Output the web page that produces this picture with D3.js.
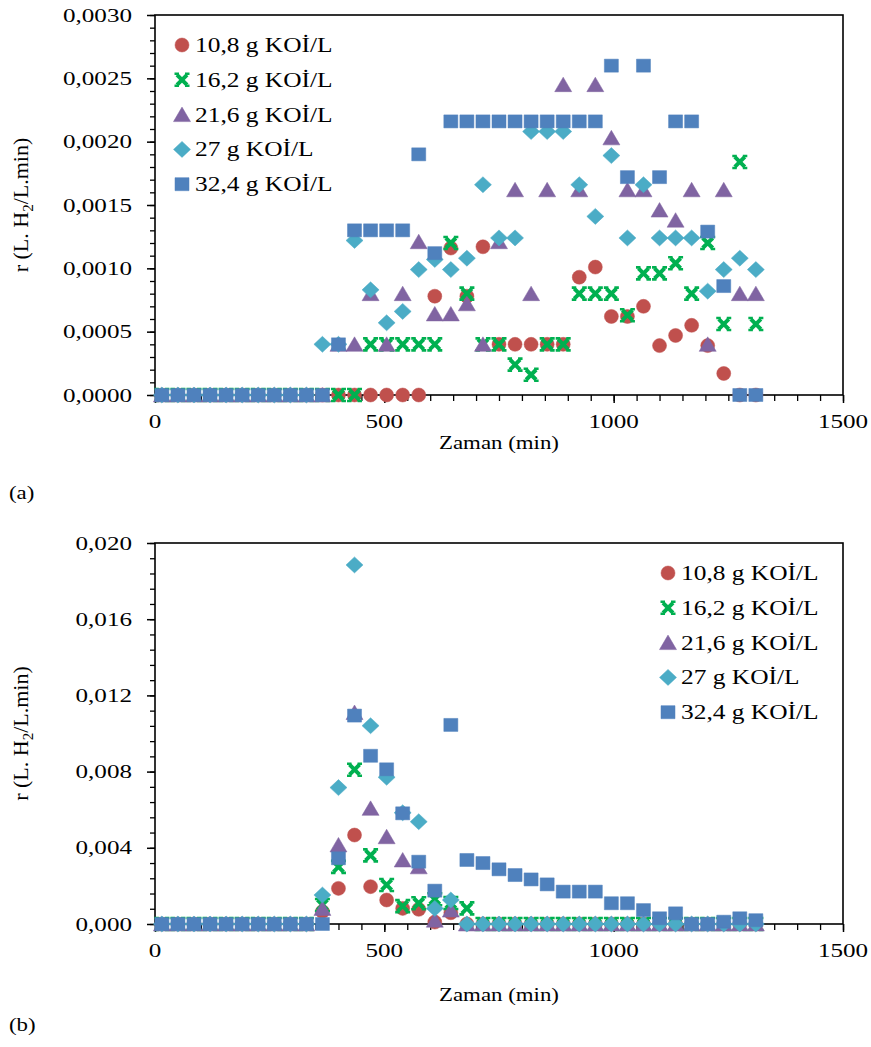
<!DOCTYPE html>
<html>
<head>
<meta charset="utf-8">
<script src="https://cdn.jsdelivr.net/npm/d3@7"></script>
<style>
  body { margin: 0; background: #fff; }
  svg { display: block; }
</style>
</head>
<body>
<div id="chart"></div>
<script>
// sampling times (min), shared by both panels
const times = [15, 50, 85, 120, 155, 190, 225, 260, 295, 330, 365, 400, 435, 470, 505, 540, 575, 610, 645,
    680, 715, 750, 785, 820, 855, 890, 925, 960, 995, 1030, 1065, 1100, 1135, 1170, 1205, 1240, 1275, 1310];

const seriesNames = ['10,8 g KOİ/L', '16,2 g KOİ/L', '21,6 g KOİ/L', '27 g KOİ/L', '32,4 g KOİ/L'];

// panel (a)
const a108 = [0, 0, 0, 0, 0, 0, 0, 0, 0, 0, 0, 0, 0, 0, 0, 0, 0,
    0.00078, 0.00116, 0.00078, 0.00117, 0.0004, 0.0004, 0.0004, 0.0004, 0.0004, 0.00093, 0.00101,
    0.00062, 0.00062, 0.0007, 0.00039, 0.00047, 0.00055, 0.00039, 0.00017, 0, 0];
const a162 = [0, 0, 0, 0, 0, 0, 0, 0, 0, 0, 0, 0, 0,
    0.0004, 0.0004, 0.0004, 0.0004, 0.0004, 0.0012, 0.0008, 0.0004, 0.0004, 0.00024, 0.00016, 0.0004,
    0.0004, 0.0008, 0.0008, 0.0008, 0.00063, 0.00096, 0.00096, 0.00104, 0.0008, 0.0012, 0.00056, 0.00184, 0.00056];
const a216 = [0, 0, 0, 0, 0, 0, 0, 0, 0, 0, 0,
    0.0004, 0.0004, 0.0008, 0.0004, 0.0008, 0.00121, 0.00064, 0.00064, 0.00072, 0.0004, 0.00121, 0.00162,
    0.0008, 0.00162, 0.00245, 0.00162, 0.00245, 0.00203, 0.00162, 0.00162, 0.00146, 0.00138, 0.00162,
    0.0004, 0.00162, 0.0008, 0.0008];
const a27 = [0, 0, 0, 0, 0, 0, 0, 0, 0, 0,
    0.0004, 0.0004, 0.00122, 0.00083, 0.00057, 0.00066, 0.00099, 0.00107, 0.00099, 0.00108, 0.00166,
    0.00124, 0.00124, 0.00208, 0.00208, 0.00208, 0.00166, 0.00141, 0.00189, 0.00124, 0.00166, 0.00124,
    0.00124, 0.00124, 0.00082, 0.00099, 0.00108, 0.00099];
const a324 = [0, 0, 0, 0, 0, 0, 0, 0, 0, 0, 0,
    0.0004, 0.0013, 0.0013, 0.0013, 0.0013, 0.0019, 0.00112, 0.00216, 0.00216, 0.00216, 0.00216, 0.00216,
    0.00216, 0.00216, 0.00216, 0.00216, 0.00216, 0.0026, 0.00172, 0.0026, 0.00172, 0.00216, 0.00216,
    0.00129, 0.00086, 0, 0];

// panel (b)
const b108 = [0, 0, 0, 0, 0, 0, 0, 0, 0, 0,
    0.00065, 0.00187, 0.00467, 0.00196, 0.00126, 0.00082, 0.00077, 0.0001, 0.00059,
    0, 0, 0, 0, 0, 0, 0, 0, 0, 0, 0, 0, 0, 0, 0, 0, 0, 0, 0];
const b162 = [0, 0, 0, 0, 0, 0, 0, 0, 0, 0,
    0.001, 0.003, 0.0081, 0.0036, 0.00205, 0.00094, 0.00109, 0.0013, 0.0011, 0.00082,
    0, 0, 0, 0, 0, 0, 0, 0, 0, 0, 0, 0, 0, 0, 0, 0, 0, 0];
const b216 = [0, 0, 0, 0, 0, 0, 0, 0, 0, 0,
    0.00082, 0.00415, 0.0111, 0.00607, 0.00458, 0.00336, 0.003, 0.0002, 0.00073,
    0, 0, 0, 0, 0, 0, 0, 0, 0, 0, 0, 0, 0, 0, 0, 0, 0, 0, 0];
const b27 = [0, 0, 0, 0, 0, 0, 0, 0, 0, 0,
    0.00152, 0.00716, 0.01885, 0.01041, 0.0077, 0.00584, 0.00537, 0.00082, 0.00126,
    0, 0, 0, 0, 0, 0, 0, 0, 0, 0, 0, 0, 0, 0, 0, 0, 0, 0, 0];
const b324 = [0, 0, 0, 0, 0, 0, 0, 0, 0, 0, 0,
    0.00345, 0.01094, 0.00883, 0.00812, 0.00581, 0.00327, 0.00175, 0.01045, 0.00336, 0.0032, 0.00287,
    0.00257, 0.00234, 0.00208, 0.0017, 0.0017, 0.0017, 0.00109, 0.00109, 0.00073, 0.0003, 0.00056,
    0, 0, 0.00012, 0.0003, 0.0002];

const xTicks = [0, 500, 1000, 1500];
const yTicksA = [0, 0.0005, 0.0010, 0.0015, 0.0020, 0.0025, 0.0030];
const yTicksB = [0, 0.004, 0.008, 0.012, 0.016, 0.020];

const COLORS = ['#C0504D', '#00B050', '#8064A2', '#4BACC6', '#4F81BD'];
const SHAPES = ['circle', 'x', 'triangle', 'diamond', 'square'];
const FONT = "'Liberation Serif', 'Times New Roman', serif";

const svg = d3.select('#chart').append('svg').attr('width', 871).attr('height', 1047);

// widen text like the original (picture is stretched horizontally)
function widen(sel, f) {
    sel.each(function () {
        const w = this.getComputedTextLength();
        d3.select(this).attr('textLength', w * f).attr('lengthAdjust', 'spacingAndGlyphs');
    });
}

function markerPath(shape) {
    switch (shape) {
        case 'circle': return 'M7,0A7,7 0 1,1 -7,0A7,7 0 1,1 7,0Z';
        case 'square': return 'M-7,-6.5H7V6.5H-7Z';
        case 'triangle': return 'M0,-7.5L8.5,7L-8.5,7Z';
        case 'diamond': return 'M0,-8L8.5,0L0,8L-8.5,0Z';
        default: return null;
    }
}

function drawMarker(g, shape, color) {
    if (shape === 'x') {
        g.append('path').attr('d', 'M-5,-5L5,5M5,-5L-5,5')
            .attr('stroke', color).attr('stroke-width', 4).attr('fill', 'none');
        g.append('path').attr('d', 'M-7.5,-6H-3M3,-6H7.5M-7.5,6H-3M3,6H7.5')
            .attr('stroke', color).attr('stroke-width', 2.6).attr('fill', 'none');
    } else {
        g.append('path').attr('d', markerPath(shape))
            .attr('fill', color).attr('stroke', color).attr('stroke-opacity', 0.5).attr('stroke-width', 1);
    }
}

function drawPanel(opt) {
    const { top, bottom, series, yMax, yTicks, yMinor, yFmt, legend, tag, titleY, tagY } = opt;
    const left = 155, right = 843;
    const x = d3.scaleLinear().domain([0, 1500]).range([left, right]);
    const y = d3.scaleLinear().domain([0, yMax]).range([bottom, top]);
    const g = svg.append('g');

    // minor + major ticks
    const xMinor = d3.range(0, 1501, 50);
    g.append('g').attr('transform', `translate(0,${bottom})`)
        .call(d3.axisBottom(x).tickValues(xMinor).tickSize(6).tickFormat(''))
        .call(a => a.select('.domain').remove())
        .call(a => a.selectAll('line').attr('stroke', '#000').attr('stroke-width', 1.3));
    g.append('g').attr('transform', `translate(0,${bottom})`)
        .call(d3.axisBottom(x).tickValues(xTicks).tickSize(8).tickFormat(''))
        .call(a => a.select('.domain').remove())
        .call(a => a.selectAll('line').attr('stroke', '#000').attr('stroke-width', 1.5));
    g.append('g').attr('transform', `translate(${left},0)`)
        .call(d3.axisLeft(y).tickValues(yMinor).tickSize(5).tickFormat(''))
        .call(a => a.select('.domain').remove())
        .call(a => a.selectAll('line').attr('stroke', '#000').attr('stroke-width', 1.3));
    g.append('g').attr('transform', `translate(${left},0)`)
        .call(d3.axisLeft(y).tickValues(yTicks).tickSize(8).tickFormat(''))
        .call(a => a.select('.domain').remove())
        .call(a => a.selectAll('line').attr('stroke', '#000').attr('stroke-width', 1.5));

    // frame
    g.append('rect').attr('x', left).attr('y', top).attr('width', right - left).attr('height', bottom - top)
        .attr('fill', 'none').attr('stroke', '#000').attr('stroke-width', 1.6);

    // tick labels
    const yl = g.selectAll('.ylab').data(yTicks).join('text')
        .attr('x', 132).attr('y', d => y(d)).attr('dy', '0.35em')
        .attr('text-anchor', 'end').attr('font-family', FONT).attr('font-size', 19).attr('fill', '#000')
        .text(d => yFmt(d).replace('.', ','));
    widen(yl, 1.32);
    const xl = g.selectAll('.xlab').data(xTicks).join('text')
        .attr('x', d => x(d)).attr('y', bottom + 26).attr('dy', '0.35em')
        .attr('text-anchor', 'middle').attr('font-family', FONT).attr('font-size', 19).attr('fill', '#000')
        .text(d => d);
    widen(xl, 1.32);

    // axis titles
    const xt = g.append('text').attr('x', (left + right) / 2).attr('y', titleY).attr('dy', '0.35em')
        .attr('text-anchor', 'middle').attr('font-family', FONT).attr('font-size', 18).text('Zaman (min)');
    widen(xt, 1.27);
    const yt = g.append('text').attr('transform', `translate(28,${(top + bottom) / 2}) rotate(-90)`)
        .attr('text-anchor', 'middle').attr('font-family', FONT).attr('font-size', 22);
    yt.append('tspan').text('r (L. H');
    yt.append('tspan').attr('font-size', 15).attr('dy', 5).text('2');
    yt.append('tspan').attr('dy', -5).text('/L.min)');
    const tg = g.append('text').attr('x', 9).attr('y', tagY).attr('dy', '0.35em')
        .attr('font-family', FONT).attr('font-size', 18).text(tag);
    widen(tg, 1.27);

    // markers, later series on top
    series.forEach((vals, s) => {
        const pts = times.map((t, i) => ({ t, v: vals[i] })).filter(d => d.v != null);
        g.append('g').selectAll('g').data(pts).join('g')
            .attr('transform', d => `translate(${x(d.t)},${y(d.v)})`)
            .each(function () { drawMarker(d3.select(this), SHAPES[s], COLORS[s]); });
    });

    // legend
    seriesNames.forEach((name, s) => {
        const ly = legend.y + s * 34.8;
        const mg = g.append('g').attr('transform', `translate(${legend.x},${ly})`);
        drawMarker(mg, SHAPES[s], COLORS[s]);
        const lt = g.append('text').attr('x', legend.x + 13).attr('y', ly).attr('dy', '0.35em')
            .attr('font-family', FONT).attr('font-size', 20).attr('fill', '#000').text(name);
        widen(lt, 1.27);
    });
}

drawPanel({
    top: 15, bottom: 395, series: [a108, a162, a216, a27, a324],
    yMax: 0.003, yTicks: yTicksA, yMinor: d3.range(0, 31).map(k => k / 10000), yFmt: d3.format('.4f'),
    legend: { x: 182, y: 45 }, tag: '(a)', titleY: 443, tagY: 493
});
drawPanel({
    top: 543, bottom: 924, series: [b108, b162, b216, b27, b324],
    yMax: 0.020, yTicks: yTicksB, yMinor: d3.range(0, 26).map(k => k * 0.0008), yFmt: d3.format('.3f'),
    legend: { x: 668, y: 573 }, tag: '(b)', titleY: 995, tagY: 1025
});
</script>
</body>
</html>
